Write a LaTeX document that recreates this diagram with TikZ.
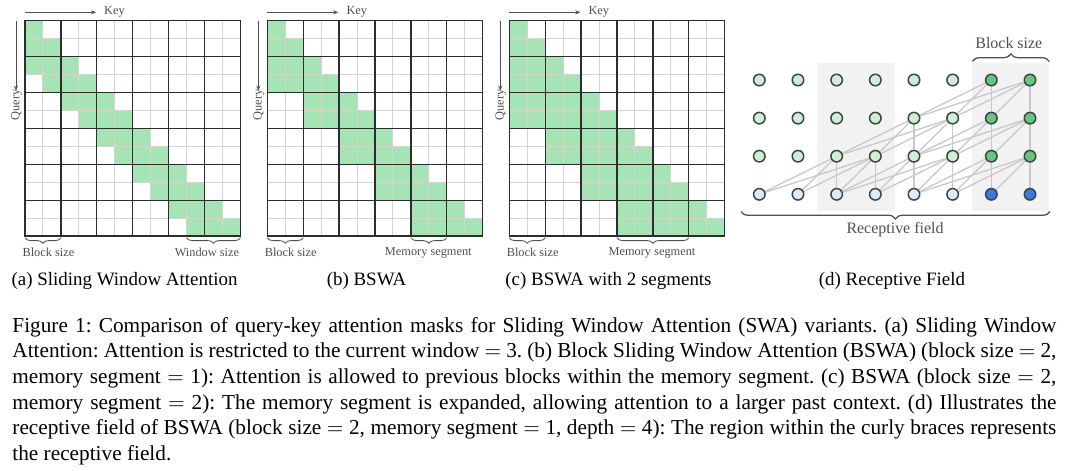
\documentclass[tikz,border=0pt]{standalone}
\usepackage{fontspec}
\setmainfont{Liberation Serif}
\usetikzlibrary{arrows.meta,decorations.pathreplacing}
\pgfdeclarelayer{bg}
\pgfdeclarelayer{mid}
\pgfsetlayers{bg,mid,main}
\definecolor{maskgreen}{RGB}{166,227,181}
\definecolor{gridthin}{RGB}{212,212,212}
\definecolor{gridthick}{RGB}{45,45,45}
\definecolor{labelgray}{RGB}{80,80,80}
\definecolor{nodeborder}{RGB}{58,70,68}
\definecolor{lightgreen}{RGB}{208,237,214}
\definecolor{darkgreen}{RGB}{104,196,128}
\definecolor{lightblue}{RGB}{222,234,248}
\definecolor{strongblue}{RGB}{58,122,222}
\definecolor{edgegray}{RGB}{198,200,204}
\definecolor{panelgray}{RGB}{242,242,242}
\frenchspacing
\begin{document}
\begin{tikzpicture}[x=0.47pt,y=-0.47pt,
  thinline/.style={draw=gridthin,line width=0.45pt},
  thickline/.style={draw=gridthick,line width=0.6pt,line cap=rect},
  arrowline/.style={draw=labelgray,line width=0.45pt,-{Stealth[length=2.4pt,width=1.9pt]}},
  lbl/.style={text=labelgray,font=\fontsize{5.8}{7}\selectfont,inner sep=0pt},
  dlbl/.style={text=labelgray,font=\fontsize{7.5}{9}\selectfont,inner sep=0pt},
  smallbrace/.style={draw=labelgray,line width=0.4pt,decorate,decoration={brace,mirror,amplitude=2.6pt}},
  bigbrace/.style={draw=labelgray,line width=0.6pt,decorate,decoration={brace,amplitude=3.6pt}},
  circnode/.style={circle,draw=nodeborder,line width=0.7pt,minimum size=5.4pt,inner sep=0pt},
  edgeline/.style={draw=edgegray,line width=0.6pt},
  subcap/.style={font=\fontsize{8.9}{10.7}\selectfont,inner sep=0pt},
]
\begin{pgfonlayer}{bg}
  \fill[white] (0,0) rectangle (1080,470);
  \fill[panelgray] (817.3,63.3) rectangle (894.6,210.7);
  \fill[panelgray] (972.0,63.3) rectangle (1049.3,210.7);
\end{pgfonlayer}
\useasboundingbox (0,0) rectangle (1080,470);

% ---------- attention masks ----------
\def\cellsz{17.95}
\def\gtop{20.7}
\foreach \L/\m in {25/1,267.3/2,509.3/3}{
  \foreach \i in {0,...,11}{
    \pgfmathtruncatemacro\lo{\m==1 ? max(0,\i-2) : max(0,2*(floor(\i/2)-\m+1))}
    \fill[maskgreen] ({\L+\lo*\cellsz},{\gtop+\i*\cellsz}) rectangle ({\L+(\i+1)*\cellsz},{\gtop+(\i+1)*\cellsz});
  }
  \foreach \k in {1,3,...,11}{
    \draw[thinline] ({\L+\k*\cellsz},\gtop) -- ({\L+\k*\cellsz},{\gtop+12*\cellsz});
    \draw[thinline] (\L,{\gtop+\k*\cellsz}) -- ({\L+12*\cellsz},{\gtop+\k*\cellsz});
  }
  \foreach \k in {0,2,...,12}{
    \draw[thickline] ({\L+\k*\cellsz},\gtop) -- ({\L+\k*\cellsz},{\gtop+12*\cellsz});
    \draw[thickline] (\L,{\gtop+\k*\cellsz}) -- ({\L+12*\cellsz},{\gtop+\k*\cellsz});
  }
}

\foreach \L/\p in {25/a,267.3/b,509.3/c}{
  \coordinate (\p-k0) at (\L,12.3);
  \coordinate (\p-k1) at ({\L+71},12.3);
  \draw[arrowline] (\p-k0) -- (\p-k1);
  \node[lbl] (\p-key) at ({\L+89.5},12) {Key};
  \coordinate (\p-q0) at ({\L-9},20.7);
  \coordinate (\p-q1) at ({\L-9},90.7);
  \draw[arrowline] (\p-q0) -- (\p-q1);
  \node[lbl,rotate=90] (\p-query) at ({\L-8.5},105) {Query};
  \coordinate (\p-b0) at (\L,237.8);
  \coordinate (\p-b1) at ({\L+2*\cellsz},237.8);
  \draw[smallbrace] (\p-b0) -- (\p-b1);
  \node[lbl] (\p-blk) at ({\L+23.4},252.3) {Block size};
}
% window / memory segment braces
\coordinate (a-w0) at ({25+9*\cellsz},237.8);
\coordinate (a-w1) at ({25+12*\cellsz},237.8);
\draw[smallbrace] (a-w0) -- (a-w1);
\node[lbl,anchor=east] (a-win) at (239.5,252.3) {Window size};

\coordinate (b-m0) at ({267.3+8*\cellsz},237.8);
\coordinate (b-m1) at ({267.3+10*\cellsz},237.8);
\draw[smallbrace] (b-m0) -- (b-m1);
\node[lbl] (b-mem) at (428.3,252.3) {Memory segment};

\coordinate (c-m0) at ({509.3+6*\cellsz},237.8);
\coordinate (c-m1) at ({509.3+10*\cellsz},237.8);
\draw[smallbrace] (c-m0) -- (c-m1);
\node[lbl] (c-mem) at (652,252.3) {Memory segment};

% ---------- receptive field ----------
\foreach \r in {0,...,3}{
  \foreach \c in {0,...,7}{
    \ifnum\r=3
      \ifnum\c>5 \def\fc{strongblue}\else\def\fc{lightblue}\fi
    \else
      \ifnum\c>5 \def\fc{darkgreen}\else\def\fc{lightgreen}\fi
    \fi
    \node[circnode,fill=\fc] (n\r\c) at ({759.3+\c*38.67},{80+\r*38.1}) {};
  }
}
\begin{pgfonlayer}{mid}
\foreach \r/\cmin in {0/6,1/4,2/2}{
  \pgfmathtruncatemacro\rr{\r+1}
  \foreach \c in {\cmin,...,7}{
    \pgfmathtruncatemacro\lo{2*(floor(\c/2)-1)}
    \foreach \k in {\lo,...,\c}{
      \draw[edgeline] (n\r\c.center) -- (n\rr\k.center);
    }
  }
}
\end{pgfonlayer}
\coordinate (bs0) at (972.3,61.5);
\coordinate (bs1) at (1049.3,61.5);
\draw[bigbrace] (bs0) -- (bs1);
\node[dlbl] (bslbl) at (1008.8,42.7) {Block size};
\coordinate (rf0) at (741,211.5);
\coordinate (rf1) at (1050,211.5);
\draw[bigbrace,decoration={brace,mirror,amplitude=3.5pt}] (rf0) -- (rf1);
\node[dlbl] (rflbl) at (895,230) {Receptive field};

% ---------- sub-captions ----------
\node[subcap] (capa) at (124.5,281) {(a) Sliding Window Attention};
\node[subcap] (capb) at (366.5,281) {(b) BSWA};
\node[subcap] (capc) at (608.5,281) {(c) BSWA with 2 segments};
\node[subcap] (capd) at (892,281) {(d) Receptive Field};

% ---------- caption ----------
\node[anchor=north west,inner sep=0pt,text width=490.7pt,align=justify,
      font=\fontsize{10}{12}\selectfont] (caption) at (12,317) {%
Figure 1: Comparison of query-key attention masks for Sliding Window Attention (SWA) variants. (a) Sliding Window\linebreak
Attention: Attention is restricted to the current window $=$ 3. (b) Block Sliding Window Attention (BSWA) (block size $=$ 2,\linebreak
memory segment $=$ 1): Attention is allowed to previous blocks within the memory segment. (c) BSWA (block size $=$ 2,\linebreak
memory segment $=$ 2): The memory segment is expanded, allowing attention to a larger past context. (d) Illustrates the\linebreak
receptive field of BSWA (block size $=$ 2, memory segment $=$ 1, depth $=$ 4): The region within the curly braces represents\linebreak
the receptive field.};
\end{tikzpicture}
\end{document}
